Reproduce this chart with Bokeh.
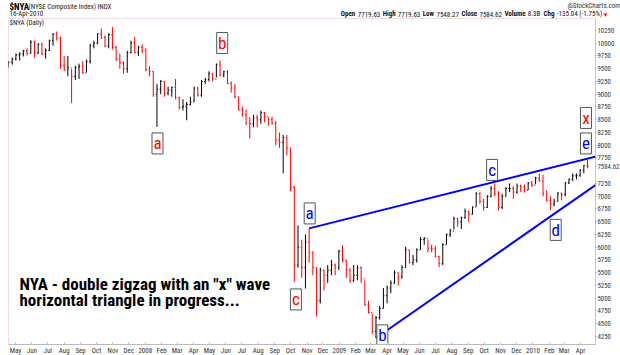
import pandas as pd
from bokeh.plotting import figure
from bokeh.layouts import column
from bokeh.models import Range1d, FixedTicker, Label, CustomJSTickFormatter, ColumnDataSource
from bokeh.core.properties import value
from bokeh.embed import file_html
from bokeh.resources import INLINE

# ---------------- data (weekly bars of $NYA) ----------------
high = [
    9650, 9720,
    9800, 9820, 9870, 9900,
    10060, 10050, 10000, 10010, 9900,
    10070, 10200, 10230, 10130,
    9750, 9750, 9500, 9560, 9600,
    9650, 9680, 9990, 10050,
    10200, 10290, 10150, 10200,
    10320, 9950, 9800, 9650, 9850,
    10050, 10120, 9950, 9980,
    # 2008
    9900, 9550, 9450, 9200,
    9280, 9250, 9150, 9150, 9300,
    8950, 8900, 8850, 8950,
    9150, 9150, 9280, 9320,
    9450, 9420, 9600, 9665, 9460,
    9470, 9250, 9200, 8950,
    8760, 8700, 8550, 8600,
    8600, 8680, 8650, 8550, 8560,
    8480, 8250, 8200, 8200,
    7950, 7200, 6430, 6150, 6250,
    6370, 5920, 5600, 5600,
    5560, 5650, 5750, 5680,
    # 2009
    5950, 6040, 5750, 5600, 5650,
    5650, 5620, 5350, 4950,
    4700, 4650, 4850, 5200,
    5250, 5350, 5550, 5500,
    5650, 6010, 5950, 5850, 5980,
    6200, 6200, 6150, 6050,
    6020, 5830, 6080, 6270, 6360,
    6600, 6580, 6600, 6760,
    6720, 6800, 7080, 7080,
    6950, 7020, 7200, 7250, 7100,
    7050, 7180, 7250, 7200,
    7250, 7230, 7230, 7280,
    # 2010
    7300, 7380, 7445, 7420, 7120,
    7000, 6950, 7080, 7070,
    7280, 7350, 7445, 7450,
    7530, 7610, 7718.63,
]
low = [
    9520, 9580,
    9660, 9660, 9740, 9760,
    9800, 9720, 9790, 9760, 9700,
    9850, 9950, 10050, 9500,
    9450, 9350, 8830, 9280, 9300,
    9400, 9430, 9600, 9900,
    9980, 10080, 9920, 9900,
    9880, 9650, 9500, 9400, 9420,
    9800, 9800, 9750, 9800,
    # 2008
    9450, 9350, 8950, 8360,
    9000, 8950, 8980, 8950, 8900,
    8700, 8680, 8490, 8780,
    8850, 8950, 8950, 9200,
    9250, 9250, 9330, 9350, 9330,
    9200, 9030, 8920, 8680,
    8560, 8400, 8130, 8350,
    8350, 8420, 8450, 8380, 8400,
    8000, 7950, 7450, 7800,
    7100, 5320, 5600, 5400, 5190,
    5700, 5450, 4640, 4900,
    5150, 5300, 5450, 5450,
    # 2009
    5550, 5700, 5400, 5300, 5320,
    5350, 5300, 4850, 4700,
    4300, 4220, 4580, 4800,
    4900, 5100, 5280, 5250,
    5380, 5600, 5680, 5650, 5700,
    5950, 6050, 5900, 5900,
    5800, 5610, 5650, 6050, 6200,
    6350, 6400, 6360, 6560,
    6490, 6640, 6800, 6850,
    6720, 6770, 6980, 7000, 6720,
    6750, 7000, 7080, 6950,
    7050, 7080, 7070, 7120,
    # 2010
    7180, 7240, 7280, 7000, 6900,
    6725, 6800, 6900, 6920,
    7000, 7240, 7300, 7330,
    7380, 7450, 7548.27,
]
close = [
    9630, 9690,
    9770, 9790, 9850, 9800,
    10020, 9810, 9980, 9790, 9860,
    10050, 10180, 10100, 9560,
    9480, 9520, 9350, 9520, 9550,
    9420, 9640, 9950, 10000,
    10180, 10120, 9950, 10170,
    9920, 9690, 9620, 9500, 9820,
    10010, 9820, 9920, 9850,
    # 2008
    9480, 9450, 9000, 9100,
    9250, 9020, 9080, 9130, 8930,
    8740, 8760, 8800, 8850,
    9120, 8980, 9250, 9290,
    9400, 9300, 9590, 9380, 9440,
    9210, 9120, 8950, 8700,
    8600, 8430, 8420, 8540,
    8500, 8640, 8560, 8500, 8430,
    8100, 8060, 8150, 7950,
    7180, 5650, 6000, 5600, 6100,
    5900, 5600, 4950, 5550,
    5450, 5550, 5650, 5600,
    # 2009
    5920, 5750, 5550, 5350, 5450,
    5600, 5380, 4870, 4720,
    4350, 4620, 4800, 5050,
    5200, 5300, 5500, 5420,
    5600, 5950, 5700, 5750, 5950,
    6150, 6170, 5980, 5970,
    5820, 5680, 6050, 6250, 6320,
    6560, 6500, 6580, 6700,
    6650, 6790, 7050, 6900,
    6780, 7000, 7150, 7050, 6780,
    7000, 7150, 7150, 7080,
    7200, 7180, 7120, 7260,
    # 2010
    7220, 7360, 7300, 7050, 6920,
    6850, 6900, 7060, 7030,
    7260, 7330, 7400, 7410,
    7510, 7600, 7584.62,
]
first_open = 9600

y_ticks = list(range(4250, 10251, 250))
month_ticks = pd.date_range("2007-05-01", "2010-04-01", freq="MS")
month_labels = ["May", "Jun", "Jul", "Aug", "Sep", "Oct", "Nov", "Dec",
                "2008", "Feb", "Mar", "Apr", "May", "Jun", "Jul", "Aug", "Sep", "Oct", "Nov", "Dec",
                "2009", "Feb", "Mar", "Apr", "May", "Jun", "Jul", "Aug", "Sep", "Oct", "Nov", "Dec",
                "2010", "Feb", "Mar", "Apr"]

# triangle boundary lines (wave a -> e and b -> d)
upper_dates = ["2008-11-05", "2010-06-10"]
upper_vals = [6370, 7888]
lower_dates = ["2009-03-11", "2010-06-10"]
lower_vals = [4220, 7522]

# wave labels
wave_text = ["a", "b", "c", "a", "b", "c", "d", "e", "x"]
wave_dates = ["2008-01-24", "2008-05-25", "2008-10-11", "2008-11-06", "2009-03-23",
              "2009-10-16", "2010-02-13", "2010-04-11", "2010-04-11"]
wave_vals = [8035, 10005, 4977, 6663, 4272, 7516, 6340, 8035, 8535]
wave_kind = ["red", "red", "red", "blue", "blue", "blue", "blue", "blue", "red"]

RED = "#ff0000"
BLUE = "#0000ff"
FONT = "Roboto Condensed, Liberation Sans"

# ---------------- header strip ----------------
head = figure(frame_width=620, frame_height=18, min_border=0,
              x_axis_location=None, y_axis_location=None,
              x_range=Range1d(0, 620), y_range=Range1d(0, 18),
              output_backend="svg", toolbar_location=None)
head.outline_line_color = None
head.xgrid.visible = False
head.ygrid.visible = False
head.line([0, 8], [0.5, 0.5], line_color="#c8c0d0", line_dash="1 1", line_width=1)

def hlab(text, cx, cy, size, bold=False, color="#000000", align="left"):
    head.add_layout(Label(x=cx, y=18 - cy, x_units="screen", y_units="screen", text=text,
                          text_font=FONT, text_font_size=size,
                          text_font_style="bold" if bold else "normal",
                          text_color=color, text_align=align, text_baseline="middle"))

hlab("$NYA", 1, 6, "9px", bold=True)
hlab("(NYSE Composite Index) INDX", 20, 6.5, "7px", color="#222222")
hlab("16-Apr-2010", 1, 13.8, "7px", color="#222222")
hlab("@StockCharts.com", 612, 5.5, "7px", color="#333333", align="right")

W = {'0': 556, '1': 556, '2': 556, '3': 556, '4': 556, '5': 556, '6': 556, '7': 556, '8': 556, '9': 556,
     '.': 278, ' ': 278, '(': 333, ')': 333, '-': 333, '%': 889, 'B': 667}
WB = {'O': 778, 'p': 611, 'e': 556, 'n': 611, 'H': 722, 'i': 278, 'g': 611, 'h': 611, 'L': 611,
      'o': 611, 'w': 778, 'C': 722, 'l': 278, 's': 556, 'V': 667, 'u': 611, 'm': 889, ' ': 278}

def tw(s, bold, size):
    tab = WB if bold else W
    return sum(tab.get(ch, 556) for ch in s) / 1000 * size * 0.85

pieces = [("Open", True), ("7719.63", False), ("High", True), ("7719.63", False), ("Low", True),
          ("7548.27", False), ("Close", True), ("7584.62", False), ("Volume", True), ("8.3B", False),
          ("Chg", True), ("-135.04 (-1.75%)", False)]
fs = 7
laid = []
total = 0
for i, (t, b) in enumerate(pieces):
    w = tw(t, b, fs)
    g = 1.8 if b else 3.5
    laid.append((t, b, w, g))
    total += w + (g if i < len(pieces) - 1 else 0)
cx = 593 - total
for t, b, w, g in laid:
    hlab(t, cx, 13.8, "%dpx" % fs, bold=b, color="#111111")
    cx += w + g
hlab("\u25bc", 597, 13.8, "6px", color=RED, align="center")

# ---------------- main chart ----------------
dates = pd.date_range("2007-04-18", periods=len(close), freq="7D")
opens = [first_open] + close[:-1]
colors = ["#000000" if c >= o else RED for c, o in zip(close, opens)]
half = pd.Timedelta(days=2)

src = ColumnDataSource(dict(x=dates, xl=dates - half, xr=dates + half,
                            high=high, low=low, open=opens, close=close, color=colors))

p = figure(x_axis_type="datetime", y_axis_location="right",
           frame_width=587, frame_height=326,
           min_border_left=8, min_border_top=0, min_border_right=0, min_border_bottom=0,
           x_range=Range1d(pd.Timestamp("2007-04-18"), pd.Timestamp("2010-04-29")),
           y_range=Range1d(4093, 10485),
           output_backend="svg", toolbar_location=None)
p.background_fill_color = "white"
p.border_fill_color = "white"
p.xgrid.visible = False
p.ygrid.visible = False
p.outline_line_color = "#e2b4c2"
p.outline_line_dash = "1 1"

p.segment("x", "low", "x", "high", source=src, line_color="color", line_width=1)
p.segment("xl", "open", "x", "open", source=src, line_color="color", line_width=1)
p.segment("x", "close", "xr", "close", source=src, line_color="color", line_width=1)

p.line(pd.to_datetime(upper_dates), upper_vals, line_color=BLUE, line_width=2)
p.line(pd.to_datetime(lower_dates), lower_vals, line_color=BLUE, line_width=2)

wsrc = ColumnDataSource(dict(x=pd.to_datetime(wave_dates), y=wave_vals, t=wave_text,
                             c=[RED if k == "red" else BLUE for k in wave_kind]))
p.rect("x", "y", width=11, height=21, width_units="screen", height_units="screen",
       source=wsrc, fill_color="white", line_color="#555555", line_width=1)
p.text("x", "y", text="t", source=wsrc, text_color="c", text_align="center",
       text_baseline="middle", text_font=value(FONT), text_font_size="17px")

# axes
last = close[-1]
ya = p.yaxis[0]
ya.ticker = FixedTicker(ticks=[t for t in y_ticks if t != 7500] + [last])
ya.formatter = CustomJSTickFormatter(args=dict(lastv=last), code="""
    return Math.abs(tick - lastv) < 0.01 ? lastv.toFixed(2) : String(Math.round(tick));
""")
ya.major_label_text_font = FONT
ya.major_label_text_font_size = "6.8px"
ya.major_label_text_color = "#333333"
ya.major_tick_out = 1
ya.major_tick_in = 0
ya.minor_tick_out = 0
ya.minor_tick_in = 0
ya.major_tick_line_color = "#999999"
ya.axis_line_color = "#aaaaaa"
ya.axis_line_dash = "1 1"
ya.major_label_standoff = 1

xa = p.xaxis[0]
tick_ms = [t.value / 1e6 for t in month_ticks]
xa.ticker = FixedTicker(ticks=tick_ms)
xa.formatter = CustomJSTickFormatter(args=dict(tvals=tick_ms, labs=month_labels), code="""
    let best = -1, bd = 1e20;
    for (let i = 0; i < tvals.length; i++) { const d = Math.abs(tvals[i] - tick); if (d < bd) { bd = d; best = i; } }
    return (best >= 0 && bd < 1e6) ? labs[best] : "";
""")
xa.major_label_text_font = FONT
xa.major_label_text_font_size = "7px"
xa.major_label_text_color = "#333333"
xa.major_tick_out = 0
xa.major_tick_in = 2
xa.minor_tick_out = 0
xa.minor_tick_in = 0
xa.major_tick_line_color = "#bbbbbb"
xa.axis_line_color = "#bbbbbb"
xa.major_label_standoff = 2

def plab(text, cx, cy, size, bold=False, color="#000000", baseline="middle"):
    # cx, cy: page pixels; main frame spans x 8..595, y 18..344
    p.add_layout(Label(x=cx - 8, y=344 - cy, x_units="screen", y_units="screen", text=text,
                       text_font=FONT, text_font_size=size,
                       text_font_style="bold" if bold else "normal",
                       text_color=color, text_align="left", text_baseline=baseline))

plab("$NYA (Daily)", 9, 22.5, "7px", color="#222222")
plab("NYA - double zigzag with an \"x\" wave", 19, 283, "17px", bold=True, baseline="alphabetic")
plab("horizontal triangle in progress...", 19, 299.5, "17px", bold=True, baseline="alphabetic")

layout = column(head, p, spacing=0)
open("out.html", "w").write(file_html(layout, INLINE))
